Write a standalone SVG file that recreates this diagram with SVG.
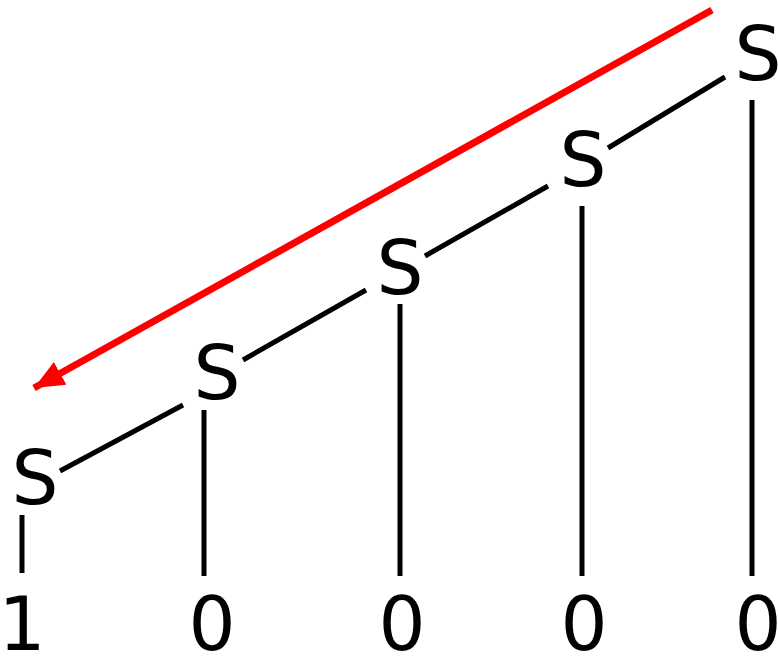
<svg xmlns="http://www.w3.org/2000/svg" width="778" height="656" viewBox="0 0 778 656">
<style>
.t{font-family:"DejaVu Sans","Liberation Sans",sans-serif;font-size:74px;fill:#000;text-anchor:middle}
.e{stroke:#000;stroke-width:5;fill:none}
</style>
<defs><marker id="ah" markerUnits="userSpaceOnUse" markerWidth="40" markerHeight="40" refX="30" refY="13" orient="auto"><path d="M0,0 L30,13 L0,26 Z" fill="#f00"/></marker></defs>
<rect width="778" height="656" fill="#fff"/>
<g id="connectors">
<line class="e" x1="60" y1="471" x2="183" y2="405"/>
<line class="e" x1="243" y1="360" x2="366" y2="290"/>
<line class="e" x1="425" y1="256" x2="548" y2="186"/>
<line class="e" x1="608" y1="148" x2="725" y2="77"/>
<line class="e" x1="22" y1="515" x2="22" y2="573"/>
<line class="e" x1="204" y1="410" x2="204" y2="576"/>
<line class="e" x1="400" y1="304" x2="400" y2="576"/>
<line class="e" x1="582" y1="206" x2="582" y2="576"/>
<line class="e" x1="752" y1="100" x2="752" y2="576"/>
<line x1="712" y1="10" x2="34" y2="388" stroke="#f00" stroke-width="7" marker-end="url(#ah)"/>
</g>
<g id="s1"><text class="t" x="35" y="504">S</text></g>
<g id="s2"><text class="t" x="217" y="399">S</text></g>
<g id="s3"><text class="t" x="400" y="294">S</text></g>
<g id="s4"><text class="t" x="583" y="186">S</text></g>
<g id="s5"><text class="t" x="758" y="80">S</text></g>
<g id="d1"><text class="t" x="22" y="650">1</text></g>
<g id="d2"><text class="t" x="212" y="650">0</text></g>
<g id="d3"><text class="t" x="402" y="650">0</text></g>
<g id="d4"><text class="t" x="584" y="650">0</text></g>
<g id="d5"><text class="t" x="758" y="650">0</text></g>
</svg>
